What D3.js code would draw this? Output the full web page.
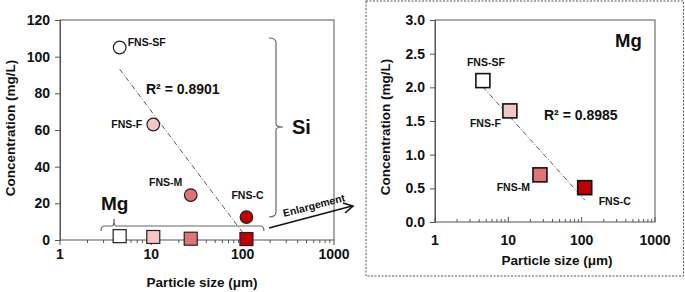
<!DOCTYPE html>
<html><head><meta charset="utf-8">
<script src="https://cdn.jsdelivr.net/npm/d3@7"></script>
<style>
body{margin:0;background:#fff;}
svg{display:block;font-family:Arial,"Liberation Sans",sans-serif;font-weight:bold;}
</style></head>
<body><svg id="c" width="685" height="292"></svg>
<script>
// ---- data ----
const samples = ["FNS-SF","FNS-F","FNS-M","FNS-C"];
const particleSize = [4.5, 10.5, 27, 110];
const siConc = [105, 63, 24.5, 12.5];
const mgConc = [2.1, 1.65, 0.7, 0.51];
const fills = ["#ffffff","#f4c6c6","#df7474","#c00000"];
const xTicks = [1, 10, 100, 1000];
const yTicksLeft = [0, 20, 40, 60, 80, 100, 120];
const yTicksRight = [0, 0.5, 1.0, 1.5, 2.0, 2.5, 3.0];
const r2Si = "R² = 0.8901";
const r2Mg = "R² = 0.8985";

const svg = d3.select("#c");
const axisCol = "#555";

function logFit(xs, ys){
  const lx = xs.map(Math.log);
  const mx = d3.mean(lx), my = d3.mean(ys);
  let sxy=0,sxx=0;
  lx.forEach((v,i)=>{sxy+=(v-mx)*(ys[i]-my);sxx+=(v-mx)*(v-mx);});
  const b = sxy/sxx, a = my - b*mx;
  return x => a + b*Math.log(x);
}

function drawFrame(g, x, y, yTicks, yFmt, xTickInside){
  const [x0,x1] = x.range(), [y0,y1] = y.range();
  g.append("rect").attr("x",x0).attr("y",y1).attr("width",x1-x0).attr("height",y0-y1)
    .attr("fill","none").attr("stroke",axisCol).attr("stroke-width",1);
  // y axis
  const ya = g.append("g").attr("transform",`translate(${x0},0)`)
    .call(d3.axisLeft(y).tickValues(yTicks).tickFormat(yFmt).tickSize(5).tickPadding(5));
  ya.select(".domain").attr("stroke",axisCol);
  ya.selectAll("line").attr("stroke",axisCol);
  ya.selectAll("text").attr("font-size",14).attr("font-family","Arial, Liberation Sans").attr("font-weight","bold").attr("fill","#111");
  // x axis minor ticks
  const minor = [];
  for (let d=1; d<1000; d*=10) for (let k=2;k<10;k++) minor.push(d*k);
  const dir = xTickInside ? -1 : 1;
  g.selectAll(".mnr").data(minor).join("line")
    .attr("x1",d=>x(d)).attr("x2",d=>x(d)).attr("y1",y0).attr("y2",y0+dir*3)
    .attr("stroke",axisCol).attr("stroke-width",1);
  g.selectAll(".mjr").data(xTicks).join("line")
    .attr("x1",d=>x(d)).attr("x2",d=>x(d)).attr("y1",y0).attr("y2",y0+dir*5)
    .attr("stroke",axisCol).attr("stroke-width",1);
  g.selectAll(".xl").data(xTicks).join("text")
    .attr("x",d=>x(d)).attr("y",y0+ (xTickInside?23:19)).attr("text-anchor","middle")
    .attr("font-size",14).attr("fill","#111").text(d=>d);
}

// ================= LEFT CHART =================
const xL = d3.scaleLog().domain([1,1000]).range([60,334]);
const yL = d3.scaleLinear().domain([0,120]).range([240,20]);
const gL = svg.append("g");
drawFrame(gL, xL, yL, yTicksLeft, d3.format("d"), false);

// trend line Si
const fSi = logFit(particleSize, siConc);
const xmin = d3.min(particleSize), xmax = d3.max(particleSize);
gL.append("line").attr("x1",xL(xmin)).attr("y1",yL(fSi(xmin))).attr("x2",xL(xmax)).attr("y2",yL(fSi(xmax)))
  .attr("stroke","#444").attr("stroke-width",0.9).attr("stroke-dasharray","5,2,1,2");

// Mg squares
gL.selectAll(".sqL").data(samples).join("rect")
  .attr("x",(d,i)=>xL(particleSize[i])-6.5).attr("y",(d,i)=>yL(mgConc[i])-6.5)
  .attr("width",13).attr("height",13).attr("fill",(d,i)=>fills[i])
  .attr("stroke","#222").attr("stroke-width",1.2);
// Si circles
gL.selectAll(".ciL").data(samples).join("circle")
  .attr("cx",(d,i)=>xL(particleSize[i])).attr("cy",(d,i)=>yL(siConc[i])).attr("r",6.3)
  .attr("fill",(d,i)=>fills[i]).attr("stroke","#222").attr("stroke-width",1.2);

// labels (offsets relative to points)
const offL = [[8,-2,"start"],[-11,3,"end"],[-25,-9,"middle"],[1,-18,"middle"]];
gL.selectAll(".lbL").data(samples).join("text")
  .attr("x",(d,i)=>xL(particleSize[i])+offL[i][0]).attr("y",(d,i)=>yL(siConc[i])+offL[i][1])
  .attr("text-anchor",(d,i)=>offL[i][2]).attr("font-size",10.5).attr("fill","#111").text(d=>d);
gL.append("text").attr("x",146).attr("y",94).attr("font-size",14).attr("fill","#111").text(r2Si);

// Si brace
gL.append("path").attr("d","M269,38 Q276,38 276,43 L276,124 Q276,127 283,127 Q276,127 276,130 L276,212 Q276,217 269,217")
  .attr("fill","none").attr("stroke","#666").attr("stroke-width",1.2);
gL.append("text").attr("x",292).attr("y",134).attr("font-size",20).attr("fill","#111").text("Si");
// Mg brace
gL.append("path").attr("d","M101,231 Q101,226 105,226 L112,226 Q114,226 114,219 Q114,226 116,226 L260,226 Q264,226 264,231")
  .attr("fill","none").attr("stroke","#666").attr("stroke-width",1.2);
gL.append("text").attr("x",101).attr("y",210).attr("font-size",19).attr("fill","#111").text("Mg");

// Enlargement arrow
svg.append("line").attr("x1",269).attr("y1",228).attr("x2",352).attr("y2",206)
  .attr("stroke","#111").attr("stroke-width",1.6);
svg.append("path").attr("d","M343,203 L353,206 L345,213").attr("fill","none").attr("stroke","#111").attr("stroke-width",1.6);
svg.append("text").attr("transform","translate(284,217) rotate(-14.5)").attr("font-size",10.5)
  .attr("font-weight","bold").attr("fill","#111").text("Enlargement");

// axis titles left
svg.append("text").attr("transform","translate(15,128) rotate(-90)").attr("text-anchor","middle")
  .attr("font-size",13.5).attr("fill","#111").text("Concentration (mg/L)");
svg.append("text").attr("x",202).attr("y",287).attr("text-anchor","middle")
  .attr("font-size",13.5).attr("fill","#111").text("Particle size (μm)");

// ================= RIGHT CHART =================
svg.append("rect").attr("x",366).attr("y",1).attr("width",317.5).attr("height",275)
  .attr("fill","none").attr("stroke","#555").attr("stroke-width",1).attr("stroke-dasharray","2,1.5");
const xR = d3.scaleLog().domain([1,1000]).range([435,655]);
const yR = d3.scaleLinear().domain([0,3]).range([222,20]);
const gR = svg.append("g");
drawFrame(gR, xR, yR, yTicksRight, d3.format(".1f"), true);

const fMg = logFit(particleSize, mgConc);
gR.append("line").attr("x1",xR(xmin)).attr("y1",yR(fMg(xmin))).attr("x2",xR(xmax)).attr("y2",yR(fMg(xmax)))
  .attr("stroke","#444").attr("stroke-width",0.9).attr("stroke-dasharray","5,2,1,2");
gR.selectAll(".sqR").data(samples).join("rect")
  .attr("x",(d,i)=>xR(particleSize[i])-7).attr("y",(d,i)=>yR(mgConc[i])-7)
  .attr("width",14).attr("height",14).attr("fill",(d,i)=>fills[i])
  .attr("stroke","#111").attr("stroke-width",1.6);
const offR = [[3,-15,"middle"],[-9,16,"end"],[-10,16,"end"],[14,17,"start"]];
gR.selectAll(".lbR").data(samples).join("text")
  .attr("x",(d,i)=>xR(particleSize[i])+offR[i][0]).attr("y",(d,i)=>yR(mgConc[i])+offR[i][1])
  .attr("text-anchor",(d,i)=>offR[i][2]).attr("font-size",10.5).attr("fill","#111").text(d=>d);
gR.append("text").attr("x",544).attr("y",120).attr("font-size",14).attr("fill","#111").text(r2Mg);
gR.append("text").attr("x",615).attr("y",47).attr("font-size",18.5).attr("fill","#111").text("Mg");

svg.append("text").attr("transform","translate(390,127) rotate(-90)").attr("text-anchor","middle")
  .attr("font-size",13.5).attr("fill","#111").text("Concentration (mg/L)");
svg.append("text").attr("x",557).attr("y",265).attr("text-anchor","middle")
  .attr("font-size",13.5).attr("fill","#111").text("Particle size (μm)");
</script></body></html>
